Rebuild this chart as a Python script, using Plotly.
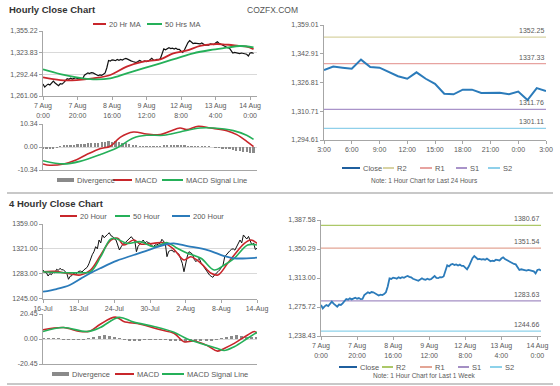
import plotly.graph_objects as go

W, H = 560, 386
def fx(p): return p / W
def fy(p): return 1 - p / H

# ---------------- DATA ----------------
# Hourly close, 7 Aug 0:00 -> 14 Aug (trading hours)
hourly_close = [
    1278.3, 1274.0, 1276.5, 1278.3, 1277.0, 1279.5, 1282.5, 1280.0, 1277.5, 1276.1,
    1278.8, 1278.3, 1280.5, 1283.0, 1286.0, 1285.2, 1286.8, 1285.5, 1287.0, 1287.7,
    1286.4, 1287.2, 1285.8, 1286.0, 1291.1, 1292.8, 1294.6, 1293.5, 1295.0, 1294.6,
    1293.0, 1291.1, 1290.5, 1291.6, 1291.1, 1292.5, 1294.6, 1302.0, 1312.6, 1311.8,
    1313.5, 1313.0, 1312.2, 1313.9, 1312.8, 1314.0, 1313.2, 1314.6, 1315.6, 1314.5,
    1313.8, 1312.0, 1311.0, 1310.4, 1309.5, 1311.0, 1312.6, 1311.2, 1310.8, 1312.0,
    1311.0, 1311.5, 1313.0, 1315.6, 1313.2, 1312.8, 1314.2, 1313.9, 1315.0, 1322.0,
    1329.3, 1328.0, 1330.2, 1331.0, 1329.8, 1330.5, 1329.0, 1330.2, 1328.5, 1328.5,
    1326.0, 1324.2, 1328.0, 1334.0, 1338.5, 1341.3, 1339.0, 1337.1, 1337.5, 1336.8,
    1337.2, 1336.5, 1337.9, 1336.0, 1334.5, 1335.2, 1334.8, 1336.5, 1336.0, 1335.5,
    1338.0, 1339.6, 1337.5, 1336.0, 1335.0, 1333.5, 1331.9, 1331.0, 1330.5, 1327.0,
    1323.3, 1324.2, 1323.5, 1323.0, 1322.5, 1323.3, 1322.4, 1322.0, 1321.5, 1319.0,
    1323.3, 1324.0, 1322.5]
hourly_ticks = ["7 Aug<br>0:00", "7 Aug<br>20:00", "8 Aug<br>16:00", "9 Aug<br>12:00",
                "12 Aug<br>8:00", "13 Aug<br>4:00", "14 Aug<br>0:00"]

ma20hr_x = [0, 10, 19.5, 29, 39, 48.5, 58, 68, 75.5, 83, 91, 97, 101, 106, 110, 114, 118, 122]
ma20hr = [1288.1, 1284.2, 1284.2, 1286.7, 1291.5, 1303.5, 1310.8, 1314.2, 1322.9, 1326.7,
          1333.5, 1335.8, 1336.4, 1335.5, 1334.9, 1333.6, 1332.5, 1329.0]
ma50hr_x = [0, 10, 19.5, 29, 39, 48.5, 58, 68, 77.5, 87, 97, 106.5, 114, 122]
ma50hr = [1299.7, 1292.9, 1288.1, 1285.2, 1286.7, 1293.9, 1301.1, 1308.4, 1315.7, 1322.9,
          1327.7, 1331.0, 1333.5, 1331.5]

macd_hr_x = [0, 4, 12, 19.5, 25.3, 33, 39, 44.7, 52.4, 60, 68, 73.6, 79.4, 83.3, 90, 97, 106.5, 112.3, 118, 122]
macd_hr = [-7.6, -8.2, -7.6, -5.7, -3.4, -0.75, 0.3, 4.35, 6.75, 5.85, 5.55, 7.05, 8.55, 7.8,
           9.3, 8.55, 7.35, 5.55, 2.55, 0.2]
sig_hr_x = [0, 12, 21.4, 33, 42.7, 52.4, 60, 70, 79.4, 91, 98.7, 110.3, 118, 122]
sig_hr = [-6.15, -7.6, -6.45, -3.45, -0.45, 4.05, 5.25, 5.25, 6.75, 8.55, 8.55, 7.35, 5.25, 3.4]
div_hr = [-0.9, -1.0, -0.8, -0.6, -0.3, 0.2, 0.5, 0.7, 0.9, 1.0,
          1.2, 1.3, 1.5, 1.6, 1.8, 1.7, 1.9, 2.2, 2.4, 2.5,
          2.3, 2.6, 2.2, 2.0, 1.6, 1.2, 0.9, 0.6, 0.4, 0.3,
          0.3, 0.2, 0.2, 0.3, 0.2, 0.5, 0.8, 1.0, 1.1, 0.9,
          0.7, 0.5, 0.3, 0.2, 0.2, 0.1, 0.2, 0.1, 0.1, 0.0,
          -0.2, -0.4, -0.6, -0.8, -1.0, -1.3, -1.6, -1.9, -2.2, -2.4,
          -2.6, -2.7]

# Last 24 hours close
day_close = [1333.8, 1335.7, 1335.1, 1334.5, 1339.6, 1335.5, 1335.1, 1332.7, 1330.3, 1328.9,
             1332.5, 1328.9, 1326.1, 1320.5, 1320.2, 1322.8, 1322.8, 1320.9, 1320.9, 1321.1,
             1320.2, 1321.7, 1317.0, 1323.7, 1322.0]
day_ticks = ["3:00", "6:00", "9:00", "12:00", "15:00", "18:00", "21:00", "0:00", "3:00"]
day_levels = {"R2": 1352.25, "R1": 1337.33, "S1": 1311.76, "S2": 1301.11}

# 4-hourly close, 16 Jul -> 14 Aug
h4_close = [
    1288.6, 1285.0, 1284.5, 1279.4, 1283.0, 1281.5, 1286.0, 1284.0, 1289.7, 1288.0,
    1291.2, 1289.0, 1289.0, 1286.5, 1283.6, 1274.4, 1279.0, 1280.0, 1283.5, 1282.0,
    1285.0, 1286.5, 1287.0, 1285.5, 1288.6, 1290.0, 1292.7, 1298.0, 1306.5, 1312.0,
    1316.6, 1324.3, 1321.0, 1334.5, 1330.0, 1342.2, 1338.0, 1340.0, 1343.0, 1345.7,
    1341.0, 1340.0, 1336.0, 1334.5, 1327.0, 1319.2, 1324.0, 1328.0, 1329.4, 1332.0,
    1334.0, 1336.5, 1339.6, 1336.0, 1334.0, 1316.6, 1325.0, 1328.0, 1331.0, 1334.5,
    1330.0, 1332.0, 1330.5, 1329.4, 1326.0, 1324.3, 1327.0, 1327.0, 1328.5, 1329.4,
    1335.6, 1333.0, 1329.4, 1309.0, 1317.0, 1318.5, 1319.0, 1316.0, 1317.0, 1314.5,
    1313.0, 1306.0, 1298.9, 1286.0, 1301.0, 1310.0, 1316.6, 1314.0, 1313.0, 1305.0,
    1301.3, 1304.0, 1306.5, 1300.0, 1296.0, 1292.0, 1288.6, 1285.0, 1281.0, 1279.0,
    1277.4, 1281.0, 1283.0, 1286.0, 1288.6, 1292.0, 1296.0, 1309.0, 1312.0, 1316.6,
    1318.0, 1320.3, 1321.0, 1319.0, 1324.0, 1329.4, 1334.5, 1330.0, 1342.2, 1339.0,
    1336.0, 1340.0, 1332.0, 1326.9, 1330.0, 1320.0, 1321.8]
h4_ticks = ["16-Jul", "18-Jul", "24-Jul", "30-Jul", "2-Aug", "8-Aug", "14-Aug"]

ma20h4_x = [0, 7, 14, 22, 28, 34, 40, 44, 47.5, 53.4, 57.4, 65, 71, 77, 83, 87, 93, 99, 103, 108.7, 112.6, 118.6, 122.5, 126]
ma20h4 = [1286.0, 1286.5, 1283.6, 1281.0, 1288.6, 1311.7, 1334.5, 1337.0, 1326.9, 1334.5, 1328.4,
          1329.4, 1330.4, 1320.3, 1304.0, 1309.0, 1298.9, 1283.6, 1281.0, 1298.9, 1311.7, 1329.4,
          1334.5, 1329.4]
ma50h4_x = [0, 14, 22, 28, 34, 39.6, 42.6, 49.5, 57.4, 65.3, 73.2, 79, 85, 93, 100.8, 106.7, 112.6, 120.5, 126]
ma50h4 = [1286.0, 1284.5, 1284.5, 1286.0, 1309.0, 1335.6, 1337.0, 1329.4, 1331.9, 1324.3, 1330.4,
          1321.8, 1314.2, 1306.5, 1288.6, 1296.3, 1306.5, 1326.9, 1326.9]
ma200h4_x = [0, 8, 15.8, 22, 27.8, 33.7, 43.6, 53.4, 63.3, 73.2, 77, 85, 96.9, 106.7, 112.6, 126]
ma200h4 = [1255.4, 1259.5, 1265.7, 1275.0, 1283.6, 1291.2, 1302.9, 1311.6, 1320.3, 1328.4, 1329.4,
           1325.3, 1319.2, 1310.0, 1306.5, 1307.4]

macd_h4_x = [0, 12, 21.9, 27.8, 33.7, 42.6, 47.5, 57.4, 69.2, 77.1, 83, 89, 96.9, 102.8, 106.7, 112.6, 120.5, 124.5, 126]
macd_h4 = [7.5, 9.4, 6.1, 6.6, 12.1, 17.9, 14.4, 12.1, 7.5, 4.7, -2.2, -1.7, -5.5, -9.9, -7.7, -3.6, 3.3, 6.1, 4.7]
sig_h4_x = [0, 12, 25.8, 33.7, 44.6, 53.4, 65.3, 77.1, 85, 92.9, 102.8, 106.7, 112.6, 120.5, 126]
sig_h4 = [6.1, 9.4, 6.1, 9.4, 17.7, 13.8, 10.2, 5.5, 0.0, -3.6, -7.7, -9.4, -6.3, 0.6, 5.5]
div_h4 = [0.6, 0.8, 0.5, 0.3, -0.3, -0.5, -0.6, -0.5, -0.3, 0.5,
          1.5, 2.5, 3.2, 2.8, 1.8, 0.5, -0.6, -1.0, -1.2, -1.0,
          -0.8, -0.7, -0.8, -0.6, -0.7, -0.9, -1.2, -1.8, -2.4, -2.0,
          -1.6, -1.5, -1.2, -1.0, -0.5, 0.8, 2.0, 2.8, 3.0, 2.6,
          2.0, 1.5, 1.0]

week_levels = {"R2": 1380.67, "R1": 1351.54, "S1": 1283.63, "S2": 1244.66}

# ---------------- STYLE ----------------
FONT = "Liberation Sans, Arial, sans-serif"
RED = "#c8262b"
GREEN = "#25b059"
BLUE = "#2b7bba"
GRAYBAR = "#8a8a8a"
TXT = "#595959"
AX = "#a6a6a6"
day_cols = {"R2": "#d8d3a3", "R1": "#e7a3a0", "S1": "#a993c9", "S2": "#8fd0ea"}
week_cols = {"R2": "#acc868", "R1": "#e3a595", "S1": "#a48fc4", "S2": "#8dd2ea"}

fig = go.Figure()

def line_trace(x, y, color, width, xa, ya, spline=False):
    return go.Scatter(x=x, y=y, mode="lines", showlegend=False,
                      line=dict(color=color, width=width, shape="spline" if spline else "linear"),
                      xaxis=xa, yaxis=ya)

# Panel A: hourly close + MAs
fig.add_trace(line_trace(list(range(len(hourly_close))), hourly_close, "#111111", 1.2, "x", "y"))
fig.add_trace(line_trace(ma20hr_x, ma20hr, RED, 1.8, "x", "y", True))
fig.add_trace(line_trace(ma50hr_x, ma50hr, GREEN, 1.8, "x", "y", True))

# Panel B: hourly MACD
fig.add_trace(go.Bar(x=list(range(0, 2 * len(div_hr), 2)), y=div_hr, showlegend=False,
                     marker=dict(color=GRAYBAR, line=dict(width=0)), width=1.3,
                     xaxis="x2", yaxis="y2"))
fig.add_trace(line_trace(macd_hr_x, macd_hr, RED, 1.6, "x2", "y2", True))
fig.add_trace(line_trace(sig_hr_x, sig_hr, GREEN, 1.6, "x2", "y2", True))

# Panel C: last 24 hours
nday = len(day_close) - 1
for k, v in day_levels.items():
    fig.add_trace(line_trace([0, nday], [v, v], day_cols[k], 1.2, "x3", "y3"))
fig.add_trace(line_trace(list(range(len(day_close))), day_close, BLUE, 2, "x3", "y3"))

# Panel D: 4-hourly close + MAs
n4 = len(h4_close) - 1
fig.add_trace(line_trace(list(range(len(h4_close))), h4_close, "#111111", 1.0, "x4", "y4"))
fig.add_trace(line_trace(ma20h4_x, ma20h4, RED, 1.6, "x4", "y4", True))
fig.add_trace(line_trace(ma50h4_x, ma50h4, GREEN, 1.6, "x4", "y4", True))
fig.add_trace(line_trace(ma200h4_x, ma200h4, BLUE, 1.8, "x4", "y4", True))

# Panel E: 4-hourly MACD
fig.add_trace(go.Bar(x=list(range(0, 3 * len(div_h4), 3)), y=div_h4, showlegend=False,
                     marker=dict(color=GRAYBAR, line=dict(width=0)), width=1.8,
                     xaxis="x5", yaxis="y5"))
fig.add_trace(line_trace(macd_h4_x, macd_h4, RED, 1.6, "x5", "y5", True))
fig.add_trace(line_trace(sig_h4_x, sig_h4, GREEN, 1.6, "x5", "y5", True))

# Panel F: last week hourly
nw = len(hourly_close) - 1
for k, v in week_levels.items():
    fig.add_trace(line_trace([0, nw], [v, v], week_cols[k], 1.2, "x6", "y6"))
fig.add_trace(line_trace(list(range(len(hourly_close))), hourly_close, BLUE, 1.8, "x6", "y6"))

# ---------------- AXES ----------------
tickfont = dict(family=FONT, size=7, color=TXT)

def xax(left, right, rng, tvals, ttext, anchor):
    return dict(domain=[fx(left), fx(right)], range=rng, tickvals=tvals, ticktext=ttext,
                showgrid=False, zeroline=False, showline=True, linecolor=AX, linewidth=1,
                ticks="outside", ticklen=3, tickcolor=AX, tickfont=tickfont, anchor=anchor,
                fixedrange=True)

def yax(top, bot, rng, tvals, ttext, anchor, grid):
    return dict(domain=[fy(bot), fy(top)], range=rng, tickvals=tvals, ticktext=ttext,
                showgrid=grid, gridcolor="#d9d9d9", gridwidth=1, zeroline=False, showline=True,
                linecolor=AX, linewidth=1, ticks="outside", ticklen=3, tickcolor=AX,
                tickfont=tickfont, anchor=anchor, fixedrange=True)

stepA = (1355.22 - 1261.06) / 3
stepF = (1387.58 - 1238.43) / 4
layout_axes = dict(
    xaxis=xax(43, 257, [0, 124], [0, 20, 40, 60, 80, 100, 120], hourly_ticks, "y"),
    yaxis=yax(31, 96, [1261.06, 1355.22], [1261.06 + i * stepA for i in range(4)],
              ["1,261.06", "1,292.44", "1,323.83", "1,355.22"], "x", True),
    xaxis2=xax(43, 257, [0, 124], [], [], "y2"),
    yaxis2=yax(124, 170, [-10.34, 10.34], [-10.34, 0, 10.34], ["-10.34", "0.00", "10.34"], "x2", True),
    xaxis3=xax(324, 546, [0, nday], list(range(0, nday + 1, 3)), day_ticks, "y3"),
    yaxis3=yax(25, 140, [1294.61, 1359.01], [1294.61 + i * 16.1 for i in range(5)],
               ["1,294.61", "1,310.71", "1,326.81", "1,342.91", "1,359.01"], "x3", False),
    xaxis4=xax(43, 257, [0, n4], [0, 21, 42, 63, 84, 105, 126], h4_ticks, "y4"),
    yaxis4=yax(224, 298.5, [1245, 1359], [1245, 1283, 1321, 1359],
               ["1245.00", "1283.00", "1321.00", "1359.00"], "x4", True),
    xaxis5=xax(43, 257, [0, n4], [], [], "y5"),
    yaxis5=yax(314, 364, [-20.45, 20.45], [-20.45, 0, 20.45], ["-20.45", "0.00", "20.45"], "x5", True),
    xaxis6=xax(321, 541, [0, nw], [0, 20, 40, 60, 80, 100, 120], hourly_ticks, "y6"),
    yaxis6=yax(220, 336, [1238.43, 1387.58], [1238.43 + i * stepF for i in range(5)],
               ["1,238.43", "1,275.72", "1,313.00", "1,350.29", "1,387.58"], "x6", False),
)

annotations = []
shapes = []

def ptext(text, x, y, size, color=TXT, anchor="left", bold=False):
    annotations.append(dict(text=f"<b>{text}</b>" if bold else text, x=fx(x), y=fy(y),
                            xref="paper", yref="paper", xanchor=anchor, yanchor="middle",
                            showarrow=False, font=dict(family=FONT, size=size, color=color)))

def legend_item(kind, x0, x1, y, color, text):
    if kind == "bar":
        shapes.append(dict(type="rect", xref="paper", yref="paper", x0=fx(x0), x1=fx(x1),
                           y0=fy(y + 2), y1=fy(y - 2), fillcolor=color, line=dict(width=0)))
    else:
        shapes.append(dict(type="line", xref="paper", yref="paper", x0=fx(x0), x1=fx(x1),
                           y0=fy(y), y1=fy(y), line=dict(color=color, width=2)))
    ptext(text, x1 + 1, y, 7.5)

# titles
ptext("Hourly Close Chart", 7, 10, 9.5, "#333333", bold=True)
ptext("COZFX.COM", 272, 10, 8.5, "#555555", anchor="center")
ptext("4 Hourly Close Chart", 7, 203, 9.5, "#333333", bold=True)

# legends
legend_item("line", 93, 106, 24, RED, "20 Hr MA")
legend_item("line", 147, 162, 24, GREEN, "50 Hrs MA")

legend_item("bar", 57, 74, 180, GRAYBAR, "Divergence")
legend_item("line", 113, 132, 180, RED, "MACD")
legend_item("line", 162, 183, 180, GREEN, "MACD Signal Line")

legend_item("line", 342, 360, 168, "#1f5f9e", "Close")
legend_item("line", 383, 394, 168, day_cols["R2"], "R2")
legend_item("line", 420, 432, 168, day_cols["R1"], "R1")
legend_item("line", 456, 467, 168, day_cols["S1"], "S1")
legend_item("line", 488, 500, 168, day_cols["S2"], "S2")
ptext("Note: 1 Hour Chart for Last 24 Hours", 424, 180, 6.5, anchor="center")

legend_item("line", 60, 77, 216, RED, "20 Hour")
legend_item("line", 115, 130, 216, GREEN, "50 Hour")
legend_item("line", 172, 190, 216, BLUE, "200 Hour")

legend_item("bar", 52, 69, 374, GRAYBAR, "Divergence")
legend_item("line", 115, 134, 374, RED, "MACD")
legend_item("line", 162, 184, 374, GREEN, "MACD Signal Line")

legend_item("line", 339, 357, 367, "#1f5f9e", "Close")
legend_item("line", 382, 393, 367, week_cols["R2"], "R2")
legend_item("line", 420, 432, 367, week_cols["R1"], "R1")
legend_item("line", 458, 469, 367, week_cols["S1"], "S1")
legend_item("line", 490, 502, 367, week_cols["S2"], "S2")
ptext("Note: 1 Hour Chart for Last 1 Week", 424, 375, 6.5, anchor="center")

# level labels
for k, v in day_levels.items():
    annotations.append(dict(text=f"{v:.2f}", x=nday, y=v, xref="x3", yref="y3", xanchor="right",
                            yanchor="bottom", yshift=1, showarrow=False,
                            font=dict(family=FONT, size=7, color=TXT)))
for k, v in week_levels.items():
    annotations.append(dict(text=f"{v:.2f}", x=nw, y=v, xref="x6", yref="y6", xanchor="right",
                            yanchor="bottom", yshift=1, showarrow=False,
                            font=dict(family=FONT, size=7, color=TXT)))

# separators
shapes.append(dict(type="line", xref="paper", yref="paper", x0=fx(7), x1=fx(553), y0=fy(193), y1=fy(193),
                   line=dict(color="#c8c8c8", width=2)))
shapes.append(dict(type="line", xref="paper", yref="paper", x0=fx(7), x1=fx(553), y0=fy(384), y1=fy(384),
                   line=dict(color="#c8c8c8", width=2)))

fig.update_layout(
    width=W, height=H, autosize=False,
    margin=dict(l=0, r=0, t=0, b=0, pad=0, autoexpand=False),
    paper_bgcolor="white", plot_bgcolor="white", hovermode=False, showlegend=False,
    font=dict(family=FONT, color=TXT), bargap=0,
    annotations=annotations, shapes=shapes, **layout_axes,
)

fig.write_html("out.html", config={"displayModeBar": False},
               post_script="document.body.style.margin='0';document.body.style.overflow='hidden';")
